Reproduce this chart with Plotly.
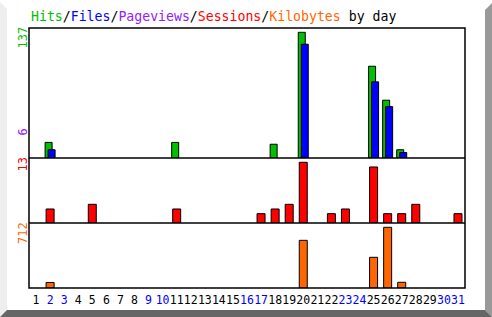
import plotly.graph_objects as go

days = list(range(1, 32))
weekend_days = [2, 3, 9, 10, 16, 17, 23, 24, 30, 31]

hits = {2: 17, 11: 17, 18: 15, 20: 137, 25: 100, 26: 63, 27: 9}
files = {2: 9, 20: 124, 25: 83, 26: 56, 27: 6}
sessions = {2: 3, 5: 4, 11: 3, 17: 2, 18: 3, 19: 4, 20: 13, 22: 2, 23: 3,
            25: 12, 26: 2, 27: 2, 28: 4, 31: 2}
kbytes = {2: 65, 20: 559, 25: 360, 26: 712, 27: 67}

max_labels = {"hits": "137", "pages": "6", "sessions": "13", "kbytes": "712"}

GREEN = "#00c000"
BLUE = "#0000ff"
PURPLE = "#9020ff"
RED = "#ff0000"
ORANGE = "#ff6600"
FONT = "DejaVu Sans Mono"

W, H = 492, 317
L, R, T, B = 29, 465, 28, 288
PW, PH = R - L, B - T
DAYPX = PW / 31.0


def px(x):
    return (x - L) / PW


def py(y):
    return (B - y) / PH


def series(d):
    return [d.get(k) for k in days]


fig = go.Figure()
line = dict(color="black", width=1)
fig.add_trace(go.Bar(x=days, y=series(hits), yaxis="y", marker=dict(color=GREEN, line=line),
                     width=7 / DAYPX, offset=-5 / DAYPX, name="Hits"))
fig.add_trace(go.Bar(x=days, y=series(files), yaxis="y", marker=dict(color=BLUE, line=line),
                     width=7 / DAYPX, offset=-2 / DAYPX, name="Files"))
fig.add_trace(go.Bar(x=days, y=series(sessions), yaxis="y2", marker=dict(color=RED, line=line),
                     width=8 / DAYPX, offset=-4 / DAYPX, name="Sessions"))
fig.add_trace(go.Bar(x=days, y=series(kbytes), yaxis="y3", marker=dict(color=ORANGE, line=line),
                     width=8 / DAYPX, offset=-4 / DAYPX, name="Kilobytes"))

ticktext = [f'<span style="color:{BLUE}">{d}</span>' if d in weekend_days else str(d) for d in days]

yax = dict(showgrid=False, zeroline=False, showticklabels=False, showline=False, ticks="",
           fixedrange=True, anchor="x", automargin=False)
fig.update_layout(
    width=W, height=H,
    margin=dict(l=L, r=W - R, t=T, b=H - B, pad=0, autoexpand=False),
    paper_bgcolor="white", plot_bgcolor="white",
    barmode="overlay", showlegend=False,
    font=dict(family=FONT, size=12, color="black"),
    xaxis=dict(range=[0.5, 31.5], tickvals=days, ticktext=ticktext, showgrid=False,
               zeroline=False, showline=False, ticks="", ticklen=0, anchor="y3",
               ticklabelstandoff=3, automargin=False,
               tickfont=dict(family=FONT, size=11.5, color="black"), tickangle=0),
    yaxis=dict(domain=[py(158), 1], range=[0, 137 * 130 / 125.7], **yax),
    yaxis2=dict(domain=[py(223), py(158)], range=[0, 13 * 65 / 60.7], **yax),
    yaxis3=dict(domain=[0, py(223)], range=[0, 712 * 65 / 60.7], **yax),
)

shapes = []
# bevel frame
shapes.append(dict(type="path", xref="paper", yref="paper",
                   path=f"M {px(0)},{py(2)} L {px(7)},{py(9)} L {px(7)},{py(310)} L {px(0)},{py(317)} Z",
                   fillcolor="#eeeeee", line=dict(width=0), layer="below"))
shapes.append(dict(type="path", xref="paper", yref="paper",
                   path=f"M {px(492)},{py(3)} L {px(492)},{py(317)} L {px(485)},{py(310)} L {px(485)},{py(10)} Z",
                   fillcolor="#999999", line=dict(width=0), layer="below"))
shapes.append(dict(type="path", xref="paper", yref="paper",
                   path=f"M {px(0)},{py(317)} L {px(7)},{py(310)} L {px(485)},{py(310)} L {px(492)},{py(317)} Z",
                   fillcolor="#666666", line=dict(width=0), layer="below"))
# panel frames
shapes.append(dict(type="rect", xref="paper", yref="paper", x0=0, x1=1, y0=0, y1=1,
                   line=dict(color="black", width=1.5), layer="above"))
for yy in (158, 223):
    shapes.append(dict(type="line", xref="paper", yref="paper", x0=0, x1=1, y0=py(yy), y1=py(yy),
                       line=dict(color="black", width=1.5), layer="above"))
fig.update_layout(shapes=shapes)

title = (f'<span style="color:{GREEN}">Hits</span>/'
         f'<span style="color:{BLUE}">Files</span>/'
         f'<span style="color:{PURPLE}">Pageviews</span>/'
         f'<span style="color:{RED}">Sessions</span>/'
         f'<span style="color:{ORANGE}">Kilobytes</span> by day')
ann = [dict(text=title, xref="paper", yref="paper", x=0, y=py(17), xanchor="left", yanchor="middle",
            showarrow=False, font=dict(family=FONT, size=13.2, color="black"))]
for txt, col, yc in ((max_labels["hits"], GREEN, 38), (max_labels["pages"], PURPLE, 132),
                     (max_labels["sessions"], RED, 165), (max_labels["kbytes"], ORANGE, 233.5)):
    ann.append(dict(text=txt, xref="paper", yref="paper", x=px(22.5), y=py(yc), xanchor="center",
                    yanchor="middle", textangle=-90, showarrow=False,
                    font=dict(family=FONT, size=12, color=col)))
fig.update_layout(annotations=ann)

fig.write_html("out.html")
